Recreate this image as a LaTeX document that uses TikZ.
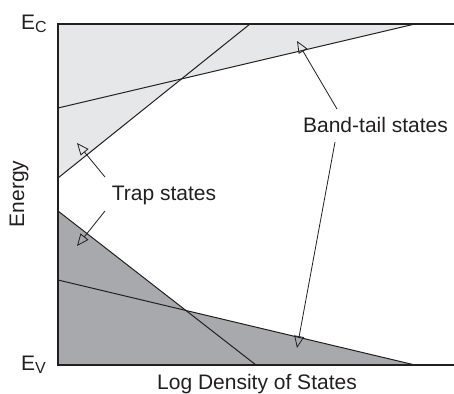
\documentclass[tikz,border=0pt]{standalone}
\usepackage{fontspec}
\setmainfont{Liberation Sans}
\usetikzlibrary{arrows.meta}
\definecolor{cbfill}{HTML}{E6E7E8}
\definecolor{vbfill}{HTML}{A7A9AC}
\definecolor{ink}{HTML}{231F20}
\tikzset{
  edgeline/.style={draw=ink, line width=1pt},
  axisline/.style={draw=ink, line width=1.6pt},
  pointer/.style={draw=ink, line width=0.8pt, -{Triangle[open, length=12pt, width=10pt, line width=0.8pt]}},
  lbl/.style={font=\fontsize{21}{21}\selectfont, text=ink, inner sep=0pt},
}
\begin{document}
\begin{tikzpicture}[x=1pt,y=-1pt]
\useasboundingbox (0,0) rectangle (454,393);
% shaded regions
\fill[cbfill] (58,24) -- (415,24) -- (181.5,79) -- (58,178) -- cycle;
\fill[vbfill] (58,211) -- (186,310.4) -- (415,365) -- (58,365) -- cycle;
% distribution lines
\draw[edgeline] (58,108) -- (415,24);
\draw[edgeline] (58,178) -- (250,24);
\draw[edgeline] (58,211) -- (256,365);
\draw[edgeline] (58,280) -- (415,365);
% axes
\draw[axisline] (58,24) -- (454,24);
\draw[axisline] (58,365) -- (454,365);
\draw[axisline] (58,23.2) -- (58,365.8);
% labels
\node[lbl, anchor=base west] (ec) at (21,30) {E\raisebox{-3pt}{\fontsize{16}{16}\selectfont C}};
\node[lbl, anchor=base west] (ev) at (21,370) {E\raisebox{-3pt}{\fontsize{16}{16}\selectfont V}};
\node[lbl, rotate=90] (energy) at (19,194) {Energy};
\node[lbl, anchor=base] (xlab) at (257,389) {Log Density of States};
\node[lbl, anchor=base] (trap) at (164,200) {Trap states};
\node[lbl, anchor=base] (tail) at (375.5,132) {Band-tail states};
% arrow end points
\coordinate (t1s) at (105,177);
\coordinate (t1e) at (77,143);
\coordinate (t2s) at (105,211);
\coordinate (t2e) at (77,246);
\coordinate (b1s) at (337,109);
\coordinate (b1e) at (297,41);
\coordinate (b2s) at (335,142);
\coordinate (b2e) at (297,348);
\draw[pointer] (t1s) -- (t1e);
\draw[pointer] (t2s) -- (t2e);
\draw[pointer] (b1s) -- (b1e);
\draw[pointer] (b2s) -- (b2e);
\end{tikzpicture}
\end{document}
